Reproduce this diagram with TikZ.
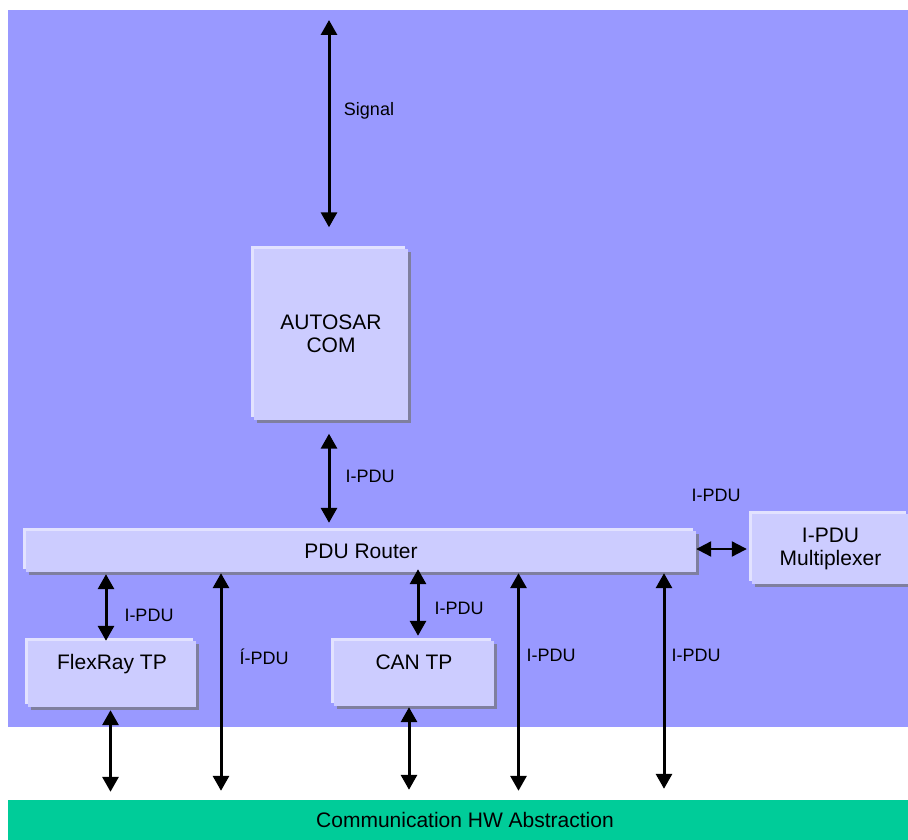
\documentclass[tikz,border=0pt]{standalone}
\usepackage{fontspec}
\setmainfont{Liberation Sans}
\usetikzlibrary{arrows.meta}
\definecolor{bgpurple}{HTML}{9999FF}
\definecolor{boxfill}{HTML}{CCCCFF}
\definecolor{boxhi}{HTML}{E2E2FF}
\definecolor{boxshadow}{HTML}{7F7F9F}
\definecolor{commgreen}{HTML}{00CC99}
\begin{document}
\begin{tikzpicture}[x=1pt,y=-1pt,
  bevbox/.style={fill=boxfill, draw=none, inner sep=0pt,
    font=\fontsize{21}{23}\selectfont,
    preaction={fill=boxshadow, transform canvas={xshift=3pt,yshift=-3pt}},
    preaction={fill=boxhi, transform canvas={xshift=-3pt,yshift=3pt}}},
  lbl/.style={font=\fontsize{18}{20}\selectfont, inner sep=0pt, text height=12.9pt, text depth=0pt},
  arr/.style={line width=3pt, {Triangle[length=15pt,width=16pt]}-{Triangle[length=15pt,width=16pt]}},
  harr/.style={line width=2.2pt, {Triangle[length=15pt,width=15pt]}-{Triangle[length=15pt,width=15pt]}}
]
\useasboundingbox (0,0) rectangle (908,840);
\fill[bgpurple] (8,10) rectangle (908,727);

% boxes
\node[bevbox, align=center, minimum width=154pt, minimum height=171pt] (com) at (331,334) {AUTOSAR\\COM};
\node[bevbox, minimum width=670pt, minimum height=41pt] (router) at (361,551.5) {PDU Router};
\node[bevbox, align=center, minimum width=157pt, minimum height=70pt] (mux) at (830.5,549) {I-PDU\\Multiplexer};
\node[bevbox, minimum width=168pt, text height=28.5pt, text depth=37.5pt] (flex) at (112,674) {FlexRay TP};
\node[bevbox, minimum width=160pt, text height=28.5pt, text depth=36.5pt] (can) at (414,673.5) {CAN TP};
\node[fill=commgreen, minimum width=900pt, minimum height=40pt, inner sep=0pt,
  font=\fontsize{21}{23}\selectfont] (comm) at (458,820) {\hspace*{14pt}Communication HW Abstraction};

% labels
\node[lbl] (lsig) at (369,109) {Signal};
\node[lbl] (l1) at (370,476) {I-PDU};
\node[lbl] (lmux) at (716,495) {I-PDU};
\node[lbl] (lflex) at (149,615) {I-PDU};
\node[lbl] (lA) at (264,658) {Í-PDU};
\node[lbl] (lcan) at (459,608) {I-PDU};
\node[lbl] (lB) at (551,655) {I-PDU};
\node[lbl] (lC) at (696,655) {I-PDU};

% arrow coordinates
\coordinate (xsig) at (329,20);
\coordinate (ymux) at (0,549);
\coordinate (xf) at (106,0);
\coordinate (xc) at (418,0);
\coordinate (xa) at (221,0);
\coordinate (xb) at (518.5,0);
\coordinate (xd) at (664,0);
\coordinate (xfb) at (110.5,0);
\coordinate (xcb) at (409,0);

% arrows
\draw[arr, shorten >=21pt] (xsig) -- (com.north -| xsig);
\draw[arr, shorten <=14pt, shorten >=8pt] (com.south -| xsig) -- (router.north -| xsig);
\draw[harr, shorten >=5pt] (router.east |- ymux) -- (mux.west |- ymux);
\draw[arr, shorten <=2pt] (router.south -| xf) -- (flex.north -| xf);
\draw[arr, shorten <=-3pt, shorten >=5pt] (router.south -| xc) -- (can.north -| xc);
\draw[arr, shorten <=1pt, shorten >=9pt] (router.south -| xa) -- (comm.north -| xa);
\draw[arr, shorten <=1pt, shorten >=9pt] (router.south -| xb) -- (comm.north -| xb);
\draw[arr, shorten <=1pt, shorten >=11pt] (router.south -| xd) -- (comm.north -| xd);
\draw[arr, shorten <=3pt, shorten >=8pt] (flex.south -| xfb) -- (comm.north -| xfb);
\draw[arr, shorten <=1pt, shorten >=10pt] (can.south -| xcb) -- (comm.north -| xcb);
\end{tikzpicture}
\end{document}
